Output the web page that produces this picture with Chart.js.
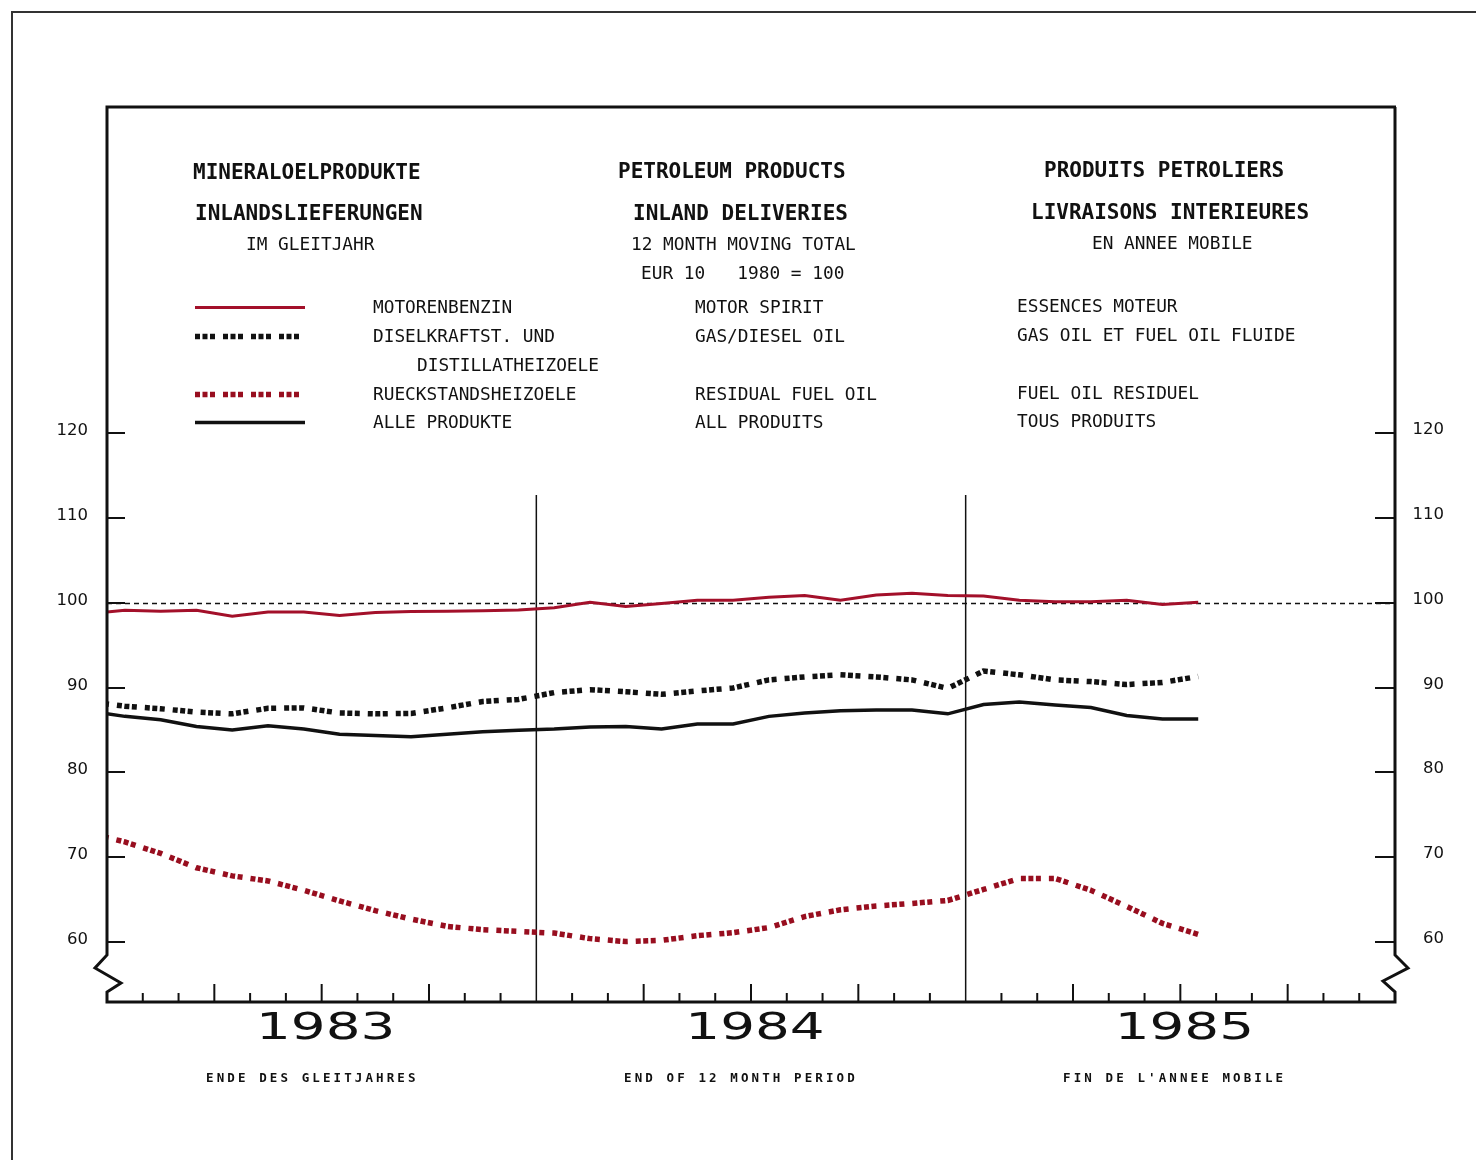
<!DOCTYPE html>
<html><head><meta charset="utf-8">
<script src="https://cdn.jsdelivr.net/npm/chart.js@4/dist/chart.umd.min.js"></script>
<style>
html,body{margin:0;padding:0;background:#fff;}
#wrap{position:relative;width:1476px;height:1160px;overflow:hidden;background:#fff;}
canvas{display:block;}
</style></head><body>
<div id="wrap"><canvas id="c" width="1476" height="1160"></canvas></div>
<script>
// ---- data (monthly, 12-month moving totals, EUR 10, 1980 = 100) ----
const months = ['Dec 82',
  'Jan 83','Feb 83','Mar 83','Apr 83','May 83','Jun 83','Jul 83','Aug 83','Sep 83','Oct 83','Nov 83','Dec 83',
  'Jan 84','Feb 84','Mar 84','Apr 84','May 84','Jun 84','Jul 84','Aug 84','Sep 84','Oct 84','Nov 84','Dec 84',
  'Jan 85','Feb 85','Mar 85','Apr 85','May 85','Jun 85','Jul 85'];
const motorSpirit = [98.7, 99.1, 99.0, 99.1, 98.4, 98.9, 98.9, 98.5, 98.85, 98.95, 99.0, 99.05, 99.15,
  99.4, 100.05, 99.55, 99.9, 100.3, 100.3, 100.65, 100.85, 100.3, 100.9, 101.1, 100.85,
  100.8, 100.3, 100.1, 100.1, 100.3, 99.8, 100.05];
const gasDiesel = [88.3, 87.8, 87.5, 87.1, 86.9, 87.55, 87.6, 87.0, 86.9, 86.95, 87.6, 88.35, 88.6,
  89.4, 89.75, 89.5, 89.2, 89.6, 89.95, 90.9, 91.25, 91.5, 91.25, 90.9, 89.9,
  91.95, 91.5, 90.9, 90.7, 90.35, 90.6, 91.3];
const residual = [72.8, 71.8, 70.45, 68.75, 67.8, 67.2, 66.1, 64.85, 63.7, 62.7, 61.85, 61.45, 61.25,
  61.05, 60.4, 60.05, 60.2, 60.75, 61.1, 61.7, 63.0, 63.8, 64.25, 64.55, 64.9,
  66.2, 67.5, 67.5, 66.1, 64.2, 62.2, 60.9];
const allProducts = [87.2, 86.6, 86.2, 85.4, 85.0, 85.5, 85.1, 84.5, 84.35, 84.2, 84.5, 84.8, 84.95,
  85.1, 85.35, 85.4, 85.1, 85.7, 85.7, 86.6, 87.0, 87.25, 87.35, 87.35, 86.9,
  88.0, 88.3, 87.95, 87.65, 86.7, 86.3, 86.3];
const yTicks = [60, 70, 80, 90, 100, 110, 120];
const years = ['1983', '1984', '1985'];
const baseValue = 100;
const dividerTop = 112.7;

const seriesNames = [
  ['MOTORENBENZIN', 'MOTOR SPIRIT', 'ESSENCES MOTEUR'],
  ['DISELKRAFTST. UND', 'GAS/DIESEL OIL', 'GAS OIL ET FUEL OIL FLUIDE'],
  ['RUECKSTANDSHEIZOELE', 'RESIDUAL FUEL OIL', 'FUEL OIL RESIDUEL'],
  ['ALLE PRODUKTE', 'ALL PRODUITS', 'TOUS PRODUITS']
];

// x position = months since start of 1983, plotted at mid-month
const pts = arr => arr.map((v, i) => ({x: i - 0.5, y: v}));
const DOTS = [5, 2.5, 5, 2.5, 5, 8];

const INK = '#111';
const RED = '#a3102a';
const RED_DOT = '#980e1f';
const MONO = '"DejaVu Sans Mono", monospace';

function txt(ctx, s, x, y, font, align, spacing) {
  ctx.font = font;
  ctx.letterSpacing = (spacing || 0) + 'px';
  ctx.textAlign = align || 'left';
  ctx.textBaseline = 'middle';
  ctx.fillStyle = INK;
  ctx.fillText(s, x, y);
  ctx.letterSpacing = '0px';
}

const refLines = {
  id: 'refLines',
  beforeDatasetsDraw(chart) {
    const {ctx, chartArea: a, scales: {x, y}} = chart;
    ctx.save();
    ctx.strokeStyle = INK;
    ctx.lineWidth = 1.4;
    ctx.setLineDash([5, 4]);
    const yb = Math.round(y.getPixelForValue(baseValue)) + 0.5;
    ctx.beginPath(); ctx.moveTo(a.left, yb); ctx.lineTo(a.right, yb); ctx.stroke();
    ctx.setLineDash([]);
    ctx.lineWidth = 1.5;
    [12, 24].forEach(m => {
      const px = x.getPixelForValue(m);
      ctx.beginPath(); ctx.moveTo(px, y.getPixelForValue(dividerTop)); ctx.lineTo(px, a.bottom); ctx.stroke();
    });
    ctx.restore();
  }
};

const frame = {
  id: 'frame',
  afterDatasetsDraw(chart) {
    const {ctx, chartArea: a, scales: {x, y}} = chart;
    ctx.save();
    ctx.strokeStyle = '#333';
    ctx.lineWidth = 2;
    ctx.beginPath(); ctx.moveTo(1476, 12); ctx.lineTo(12, 12); ctx.lineTo(12, 1160); ctx.stroke();

    ctx.strokeStyle = INK;
    ctx.lineWidth = 3;
    ctx.lineJoin = 'miter';
    const L = a.left, R = a.right, T = a.top, B = a.bottom;
    ctx.beginPath();
    ctx.moveTo(R + 1, T); ctx.lineTo(L, T);
    ctx.lineTo(L, B - 47); ctx.lineTo(L - 12, B - 34); ctx.lineTo(L + 14, B - 19); ctx.lineTo(L, B - 10);
    ctx.lineTo(L, B); ctx.lineTo(R, B);
    ctx.lineTo(R, B - 10); ctx.lineTo(R - 12, B - 21); ctx.lineTo(R + 13, B - 34); ctx.lineTo(R, B - 47);
    ctx.lineTo(R, T);
    ctx.stroke();

    ctx.lineWidth = 2;
    yTicks.forEach(v => {
      const py = Math.round(y.getPixelForValue(v));
      ctx.beginPath(); ctx.moveTo(L, py); ctx.lineTo(L + 18, py); ctx.stroke();
      ctx.beginPath(); ctx.moveTo(R - 20, py); ctx.lineTo(R, py); ctx.stroke();
      txt(ctx, String(v), 88, py - 2, '16.5px "DejaVu Sans"', 'right');
      txt(ctx, String(v), 1444, py - 3, '16.5px "DejaVu Sans"', 'right');
    });
    for (let m = 1; m < 36; m++) {
      if (m % 12 === 0) continue;
      const px = x.getPixelForValue(m);
      const len = m % 3 === 0 ? 18 : 9;
      ctx.beginPath(); ctx.moveTo(px, B); ctx.lineTo(px, B - len); ctx.stroke();
    }
    years.forEach((s, i) => {
      const cx = x.getPixelForValue(i * 12 + 6) + 4;
      ctx.save();
      ctx.translate(cx, 1029);
      ctx.scale(1.44, 1);
      txt(ctx, s, 0, 0, '38px "DejaVu Sans"', 'center');
      ctx.restore();
    });
    const subFont = 'bold 12.5px ' + MONO;
    txt(ctx, 'ENDE DES GLEITJAHRES', 206, 1079, subFont, 'left', 3.1);
    txt(ctx, 'END OF 12 MONTH PERIOD', 624, 1079, subFont, 'left', 3.1);
    txt(ctx, "FIN DE L'ANNEE MOBILE", 1063, 1079, subFont, 'left', 3.1);

    const H = 'bold 21px ' + MONO, S = '17.8px ' + MONO;
    txt(ctx, 'MINERALOELPRODUKTE', 193, 174, H);
    txt(ctx, 'INLANDSLIEFERUNGEN', 195, 215, H);
    txt(ctx, 'IM GLEITJAHR', 246, 245, S);
    txt(ctx, 'PETROLEUM PRODUCTS', 618, 173, H);
    txt(ctx, 'INLAND DELIVERIES', 633, 215, H);
    txt(ctx, '12 MONTH MOVING TOTAL', 631, 245, S);
    txt(ctx, 'EUR 10   1980 = 100', 641, 274, S);
    txt(ctx, 'PRODUITS PETROLIERS', 1044, 172, H);
    txt(ctx, 'LIVRAISONS INTERIEURES', 1031, 214, H);
    txt(ctx, 'EN ANNEE MOBILE', 1092, 244, S);

    const rowY = [307, 336, 394, 422];
    const colX = [373, 695, 1017];
    chart.data.datasets.forEach((ds, i) => {
      ctx.save();
      ctx.strokeStyle = ds.borderColor;
      ctx.lineWidth = ds.borderWidth;
      ctx.setLineDash(ds.borderDash || []);
      ctx.beginPath(); ctx.moveTo(195, rowY[i] + 0.5); ctx.lineTo(305, rowY[i] + 0.5); ctx.stroke();
      ctx.restore();
      seriesNames[i].forEach((s, j) => txt(ctx, s, colX[j], rowY[i] + 1 - (j === 2 ? 1 : 0), S));
    });
    txt(ctx, 'DISTILLATHEIZOELE', 417, 366, S);
    ctx.restore();
  }
};

new Chart(document.getElementById('c'), {
  type: 'line',
  data: {
    labels: months,
    datasets: [
      {label: seriesNames[0][1], data: pts(motorSpirit), borderColor: RED, borderWidth: 3},
      {label: seriesNames[1][1], data: pts(gasDiesel), borderColor: INK, borderWidth: 5.5, borderDash: DOTS},
      {label: seriesNames[2][1], data: pts(residual), borderColor: RED_DOT, borderWidth: 5.5, borderDash: DOTS},
      {label: seriesNames[3][1], data: pts(allProducts), borderColor: INK, borderWidth: 3.5}
    ].map(d => Object.assign({pointRadius: 0, tension: 0, fill: false, clip: 0, borderCapStyle: 'butt'}, d))
  },
  options: {
    responsive: false,
    animation: false,
    devicePixelRatio: 1,
    layout: {padding: {left: 107, right: 81, top: 107, bottom: 158}},
    plugins: {legend: {display: false}, tooltip: {enabled: false}},
    scales: {
      x: {type: 'linear', min: 0, max: 36, display: false},
      y: {min: 52.93, max: 158.43, display: false}
    }
  },
  plugins: [refLines, frame]
});
</script>
</body></html>
